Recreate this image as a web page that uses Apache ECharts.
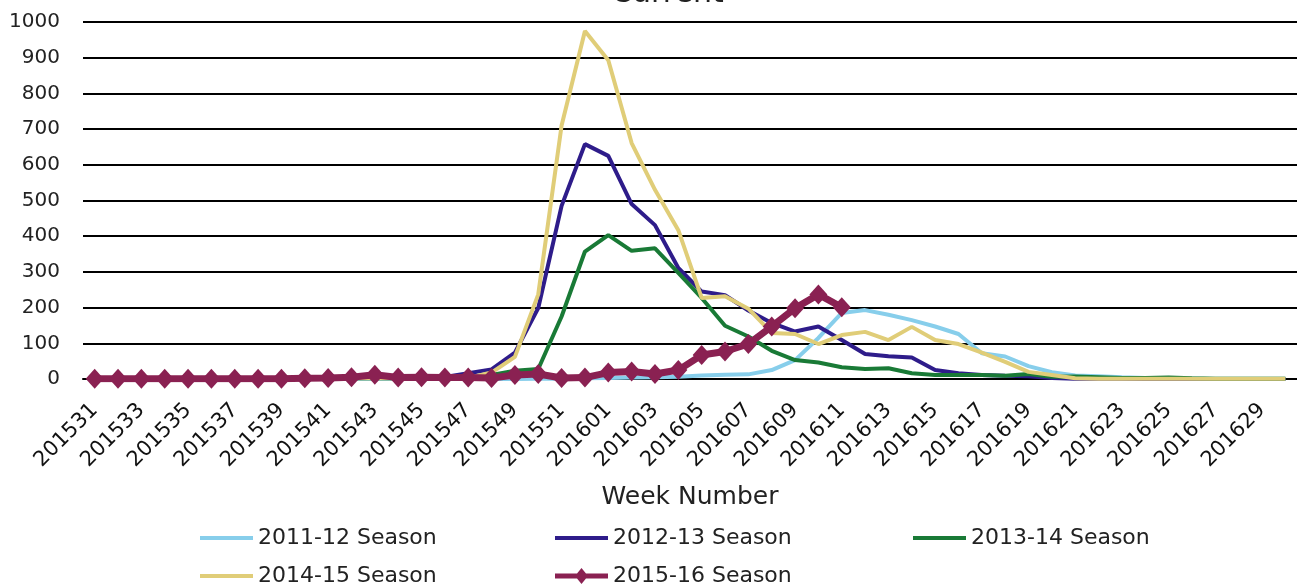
<!DOCTYPE html>
<html>
<head>
<meta charset="utf-8">
<script src="https://cdn.jsdelivr.net/npm/echarts@6/dist/echarts.min.js"></script>
<style>
html,body{margin:0;padding:0;background:#fff;}
#chart{width:1297px;height:585px;}
</style>
</head>
<body>
<div id="chart"></div>
<script>
const weeks = ['201531','201532','201533','201534','201535','201536','201537','201538','201539','201540','201541','201542','201543','201544','201545','201546','201547','201548','201549','201550','201551','201552','201601','201602','201603','201604','201605','201606','201607','201608','201609','201610','201611','201612','201613','201614','201615','201616','201617','201618','201619','201620','201621','201622','201623','201624','201625','201626','201627','201628','201629','201630'];

const s1112 = [0,0,0,0,0,0,0,0,0,0,0,0,1,0,0,0,0,0,0,1,1,2,3,4,5,6,10,12,13,25,53,115,185,193,180,165,147,126,72,63,36,19,10,8,5,3,2,2,1,1,1,1];
const s1213 = [2,2,2,2,2,2,2,2,2,3,3,3,4,4,5,6,16,27,74,199,485,658,625,490,431,311,245,235,192,157,133,147,109,70,64,60,25,16,11,9,8,3,1,1,1,0,0,0,0,0,0,0];
const s1314 = [1,1,1,1,1,1,1,1,1,2,2,2,2,2,3,3,4,11,23,28,175,357,403,359,366,297,227,149,119,79,53,46,33,28,30,16,11,11,11,9,14,6,7,5,3,3,4,2,1,1,1,1];
const s1415 = [1,1,1,1,1,1,1,1,1,2,3,2,3,2,2,2,3,18,62,237,710,975,893,661,530,417,227,232,197,129,126,98,123,132,109,146,109,98,74,48,20,11,2,1,1,1,1,1,1,1,1,1];
const s1516 = [1,1,1,1,1,1,1,1,1,2,3,5,12,4,5,4,4,3,11,14,3,4,18,21,14,25,67,77,98,147,198,237,201];

const seasonNames = ['2011-12 Season','2012-13 Season','2013-14 Season','2014-15 Season','2015-16 Season'];
const seasonColors = ['#87CEEB','#2E1C8A','#197A36','#E0CD78','#8A2152'];
const yTicks = [0,100,200,300,400,500,600,700,800,900,1000];

const FONT = 'DejaVu Sans';
const chart = echarts.init(document.getElementById('chart'), null, {renderer:'canvas'});

function lineSeries(idx, data){
  return {
    name: seasonNames[idx], type:'line', data:data,
    symbol:'none', showSymbol:false, smooth:false,
    lineStyle:{color:seasonColors[idx], width:4},
    itemStyle:{color:seasonColors[idx]},
    emphasis:{disabled:true}, animation:false
  };
}

const LINE_ICON = 'path://M0,0 L53,0 L53,4 L0,4 Z';
const DIAMOND_ICON = 'path://M0,5.5 L53,5.5 L53,10.5 L0,10.5 Z M26.5,0 L33,8 L26.5,16 L20,8 Z';

const legendPos = [
  {left:200, top:527, icon:LINE_ICON, h:4},
  {left:555, top:527, icon:LINE_ICON, h:4},
  {left:913, top:527, icon:LINE_ICON, h:4},
  {left:200, top:565, icon:LINE_ICON, h:4},
  {left:555, top:565, icon:DIAMOND_ICON, h:16}
];

const option = {
  backgroundColor:'#fff',
  animation:false,
  title:{
    text:'Current', left:606, top:-26,
    textStyle:{fontFamily:FONT, fontSize:30, fontWeight:'normal', color:'#222'}
  },
  legend: seasonNames.map((n,i)=>({
    data:[{name:n, icon:legendPos[i].icon}], left:legendPos[i].left, top:legendPos[i].top,
    padding:0, itemWidth:53, itemHeight:legendPos[i].h, itemGap:5,
    textStyle:{fontFamily:FONT, fontSize:22, color:'#222', padding:[0,0,0,0]},
    selectedMode:false
  })),
  grid:{left:83, right:0, top:22, bottom:206, containLabel:false},
  xAxis:{
    type:'category', data:weeks, boundaryGap:true,
    name:'Week Number', nameLocation:'middle', nameGap:106,
    nameTextStyle:{fontFamily:FONT, fontSize:25, color:'#222'},
    axisLine:{show:true, lineStyle:{color:'#000', width:2}},
    axisTick:{show:false},
    axisLabel:{interval:1, rotate:45, fontFamily:FONT, fontSize:21, color:'#111', margin:28}
  },
  yAxis:{
    type:'value', min:0, max:1000, interval:100,
    axisLine:{show:false}, axisTick:{show:false},
    axisLabel:{fontFamily:FONT, fontSize:20, color:'#222', margin:23,
      formatter:(v)=> yTicks.includes(v) ? String(v) : ''},
    splitLine:{show:true, lineStyle:{color:'#000', width:2}}
  },
  series:[
    lineSeries(0, s1112),
    lineSeries(1, s1213),
    lineSeries(2, s1314),
    lineSeries(3, s1415),
    {
      name: seasonNames[4], type:'line', data:s1516,
      symbol:'diamond', symbolSize:[18,20], showSymbol:true, showAllSymbol:true,
      lineStyle:{color:seasonColors[4], width:7},
      itemStyle:{color:seasonColors[4]},
      emphasis:{disabled:true}, animation:false
    }
  ]
};
chart.setOption(option);
</script>
</body>
</html>
